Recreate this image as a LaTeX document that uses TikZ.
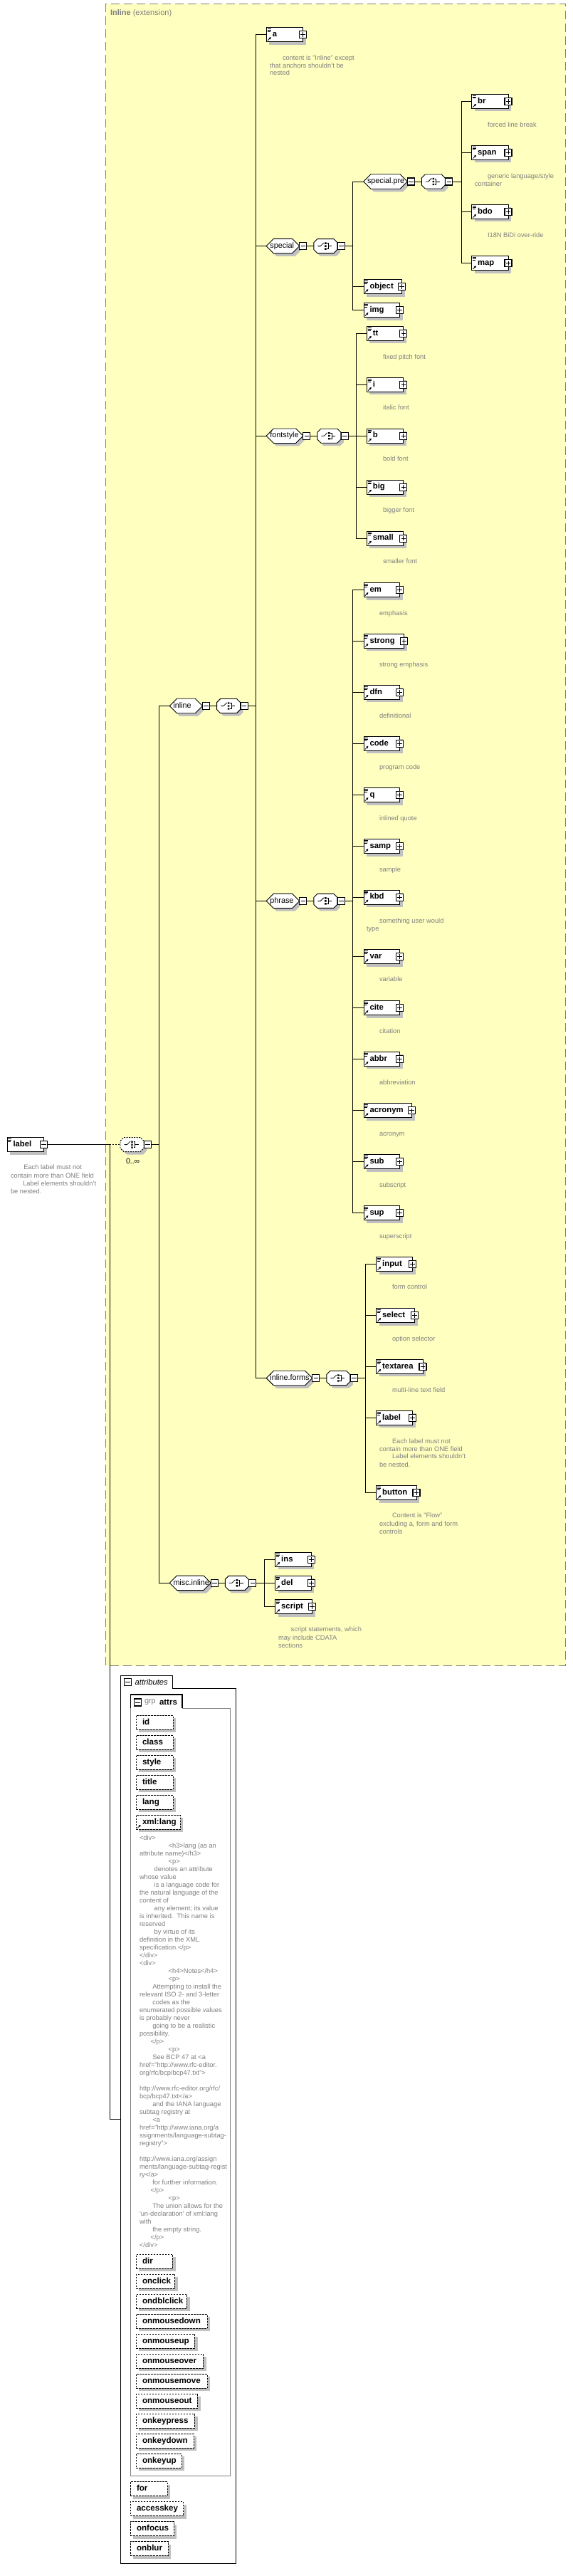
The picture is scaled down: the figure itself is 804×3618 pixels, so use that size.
\documentclass[tikz,border=0pt]{standalone}
\usepackage{fontspec}
\setmainfont{Liberation Sans}
\usetikzlibrary{shapes.misc,shadows,arrows.meta,calc}
\definecolor{bgyellow}{RGB}{255,255,192}
\definecolor{shgray}{RGB}{192,192,192}
\definecolor{txtgray}{RGB}{128,128,128}
\newcounter{dsc}
\tikzset{
  every node/.style={inner sep=0pt, outer sep=0pt},
  conn/.style={line width=0.9pt},
  shad/.style={general shadow={fill=shgray, shadow xshift=4pt, shadow yshift=-4pt}},
  elem/.style={shad, rectangle, draw, fill=white, line width=0.9pt, anchor=west, minimum height=20pt, text height=8pt, text depth=2.5pt, font=\bfseries\fontsize{11.3}{13}\selectfont},
  grp/.style={shad, chamfered rectangle, chamfered rectangle xsep=5pt, chamfered rectangle ysep=5pt, draw, fill=white, line width=0.9pt, anchor=west, minimum height=20pt, text height=8pt, text depth=2.5pt, font=\fontsize{10.8}{13}\selectfont},
  cho/.style={grp, minimum width=33pt},
  attr/.style={shad, rectangle, draw, dash pattern=on 2.4pt off 1.6pt, fill=white, line width=0.8pt, anchor=west, minimum height=20pt, text height=8.4pt, text depth=2.5pt, font=\bfseries\fontsize{11.6}{13}\selectfont},
  pm/.style={rectangle, draw, fill=white, line width=1.1pt, minimum width=10pt, minimum height=10pt},
  plusbox/.style={pm, path picture={\draw[line width=0.8pt] ([xshift=-3.2pt]path picture bounding box.center) -- ([xshift=3.2pt]path picture bounding box.center) ([yshift=-3.2pt]path picture bounding box.center) -- ([yshift=3.2pt]path picture bounding box.center);}},
  minusbox/.style={pm, path picture={\draw[line width=0.8pt] ([xshift=-3.2pt]path picture bounding box.center) -- ([xshift=3.2pt]path picture bounding box.center);}},
  desc/.style={anchor=west, text=txtgray, text height=6.8pt, text depth=2pt, font=\fontsize{9.3}{11}\selectfont},
}
\newcommand\XDocIcon[1]{%
  \draw[line width=0.6pt] ([xshift=1.3pt,yshift=-1.8pt]#1.north west) -- ++(5pt,0pt)
    ([xshift=1.3pt,yshift=-3.6pt]#1.north west) -- ++(5pt,0pt)
    ([xshift=1.3pt,yshift=-5.4pt]#1.north west) -- ++(4pt,0pt);}
\newcommand\XRefIcon[1]{%
  \draw[line width=0.8pt,-{Triangle[length=2.8pt,width=3pt]}] ([xshift=1.8pt,yshift=1.8pt]#1.south west) -- ++(4.6pt,4.6pt);}
\newcommand\XChoIcon[1]{%
  \draw[line width=0.8pt] ([xshift=-11pt]#1.center) -- ([xshift=-7pt]#1.center) -- ([xshift=-2.5pt,yshift=4.5pt]#1.center);
  \fill ([xshift=-1.2pt,yshift=5.2pt]#1.center) rectangle ([xshift=1.2pt,yshift=2.8pt]#1.center)
        ([xshift=-1.2pt,yshift=1.2pt]#1.center) rectangle ([xshift=1.2pt,yshift=-1.2pt]#1.center)
        ([xshift=-1.2pt,yshift=-2.8pt]#1.center) rectangle ([xshift=1.2pt,yshift=-5.2pt]#1.center);
  \draw[line width=0.8pt] ([xshift=2pt,yshift=4pt]#1.center) -- ([xshift=4pt,yshift=4pt]#1.center) -- ([xshift=4pt,yshift=-4pt]#1.center) -- ([xshift=2pt,yshift=-4pt]#1.center)
        ([xshift=4pt]#1.center) -- ([xshift=9pt]#1.center);}
\newcommand\XEl[5]{%
  \pgfmathsetmacro\xw{#4-#3}%
  \node[elem] (#1) at (#3,#5) {\makebox[\xw pt][l]{\hspace*{8.5pt}#2}};
  \XDocIcon{#1}\XRefIcon{#1}
  \node[plusbox] (#1-p) at (#1.east) {};}
\newcommand\XGrp[6]{%
  \pgfmathsetmacro\xw{#4-#3}\pgfmathsetmacro\xt{#4-#3-10}%
  \node[grp, minimum width=\xw pt] (#1) at (#3,#5) {\makebox[\xt pt][l]{#2}};
  \node[minusbox, anchor=west] (#1-m) at ([xshift=0.3pt]#1.east) {};
  \node[cho, anchor=west] (#1-c) at ([xshift=10pt]#1-m.east) {};
  \XChoIcon{#1-c}
  \node[minusbox, anchor=west] (#1-cm) at ([xshift=0.5pt]#1-c.east) {};
  \draw[conn] (#1-m.east) -- (#1-c.west);
  \coordinate (#1-bar) at (#6,#5);
  \draw[conn] (#1-cm.east) -- (#1-bar);}
\newcommand\XBr[2]{\draw[conn] (#1-bar) |- (#2.west);}
\newcommand\XAt[5]{%
  \pgfmathsetmacro\xw{#4-#3}%
  \node[attr] (#1) at (#3,#5) {\makebox[\xw pt][l]{\hspace*{8.7pt}#2}};}
\newcommand\XDs[3]{\stepcounter{dsc}\node[desc] (ds\arabic{dsc}) at (#1,#2) {#3};}

\begin{document}
\begin{tikzpicture}[x=1pt,y=-1pt]
\useasboundingbox (0,0) rectangle (804,3618);
\fill[white] (0,0) rectangle (804,3618);
% extension box
\draw[txtgray, fill=bgyellow, line width=1pt, dash pattern=on 12pt off 6pt] (148.7,5.4) rectangle (794,2339.6);
\node[anchor=west, text=txtgray, font=\fontsize{11}{13}\selectfont] (ttl) at (155,19) {\textbf{Inline} (extension)};

% root
\node[elem] (root) at (10,1607.6) {\makebox[51.6pt][l]{\hspace*{8.5pt}label}};
\XDocIcon{root}
\node[minusbox] (root-m) at (root.east) {};
\node[cho, dash pattern=on 2pt off 1.5pt] (rc) at (169,1607.6) {};
\XChoIcon{rc}
\node[minusbox, anchor=west] (rc-cm) at ([xshift=0.5pt]rc.east) {};
\coordinate (rootj) at (154,1607.6);
\coordinate (rc-bar) at (223.6,1607.6);
\coordinate (attrbox) at (169.7,2976);
\draw[conn] (root-m.east) -- (rootj);
\draw[conn, dash pattern=on 2pt off 2pt] (rootj) -- (rc.west);
\draw[conn] (rootj) |- (attrbox);
\draw[conn] (rc-cm.east) -- (rc-bar);
\node[anchor=west, font=\fontsize{10.5}{12}\selectfont] (occ) at (177,1631) {0..∞};
\XDs{33.3}{1640.5}{Each label must not}
\XDs{15}{1651.6}{contain more than ONE field}
\XDs{32.3}{1662.8}{Label elements shouldn't}
\XDs{15}{1673.9}{be nested.}

% groups
\XGrp{g-inline}{inline}{238.5}{284.3}{991.5}{359}
\XGrp{g-misc}{misc.inline}{238.5}{296}{2223.3}{371.3}
\XBr{rc}{g-inline}
\XBr{rc}{g-misc}

\XEl{e-a}{a}{374.4}{425.6}{48.6}
\XGrp{g-special}{special}{374.4}{420.5}{345.6}{495}
\XGrp{g-fontstyle}{fontstyle}{374.4}{425.6}{612.2}{500}
\XGrp{g-phrase}{phrase}{374.4}{420.5}{1265.4}{495}
\XGrp{g-forms}{inline.forms}{374.4}{438.5}{1935.5}{513}
\XBr{g-inline}{e-a}
\XBr{g-inline}{g-special}
\XBr{g-inline}{g-fontstyle}
\XBr{g-inline}{g-phrase}
\XBr{g-inline}{g-forms}
\XDs{397}{82}{content is "Inline" except}
\XDs{379}{93}{that anchors shouldn't be}
\XDs{379}{103.5}{nested}

% special
\XGrp{g-spre}{special.pre}{511}{572}{255}{648}
\XEl{e-object}{object}{511}{564.6}{402.6}
\XEl{e-img}{img}{511}{561.5}{435.5}
\XBr{g-special}{g-spre}
\XBr{g-special}{e-object}
\XBr{g-special}{e-img}
\XEl{e-br}{br}{662.6}{714}{142.4}
\XEl{e-span}{span}{662.6}{714}{214.3}
\XEl{e-bdo}{bdo}{662.6}{714}{297.4}
\XEl{e-map}{map}{662.6}{714}{369.7}
\XBr{g-spre}{e-br}
\XBr{g-spre}{e-span}
\XBr{g-spre}{e-bdo}
\XBr{g-spre}{e-map}
\XDs{685}{175.7}{forced line break}
\XDs{685}{248}{generic language/style}
\XDs{667}{259.1}{container}
\XDs{685}{330.7}{I18N BiDi over-ride}

% fontstyle
\XEl{e-tt}{tt}{515.4}{566.7}{468.4}
\XEl{e-i}{i}{515.4}{566.7}{540.4}
\XEl{e-b}{b}{515.4}{566.7}{612.2}
\XEl{e-big}{big}{515.4}{566.7}{684.2}
\XEl{e-small}{small}{515.4}{566.7}{756.1}
\XBr{g-fontstyle}{e-tt}
\XBr{g-fontstyle}{e-i}
\XBr{g-fontstyle}{e-b}
\XBr{g-fontstyle}{e-big}
\XBr{g-fontstyle}{e-small}
\XDs{538}{501.7}{fixed pitch font}
\XDs{538}{573.3}{italic font}
\XDs{538}{645.5}{bold font}
\XDs{538}{717.5}{bigger font}
\XDs{538}{789.4}{smaller font}

% phrase
\XEl{e-em}{em}{511}{561.5}{828.5}
\XEl{e-strong}{strong}{511}{567.7}{900.4}
\XEl{e-dfn}{dfn}{511}{561.5}{972.4}
\XEl{e-code}{code}{511}{561.5}{1044.3}
\XEl{e-q}{q}{511}{561.5}{1116.6}
\XEl{e-samp}{samp}{511}{561.5}{1188.6}
\XEl{e-kbd}{kbd}{511}{561.5}{1260.1}
\XEl{e-var}{var}{511}{561.5}{1343.5}
\XEl{e-cite}{cite}{511}{561.5}{1415.5}
\XEl{e-abbr}{abbr}{511}{561.5}{1487.4}
\XEl{e-acronym}{acronym}{511}{578.5}{1559.7}
\XEl{e-sub}{sub}{511}{561.5}{1631.7}
\XEl{e-sup}{sup}{511}{561.5}{1703.6}
\foreach \c in {em,strong,dfn,code,q,samp,kbd,var,cite,abbr,acronym,sub,sup} {\XBr{g-phrase}{e-\c}}
\XDs{533}{861.8}{emphasis}
\XDs{533}{934}{strong emphasis}
\XDs{533}{1006}{definitional}
\XDs{533}{1078.1}{program code}
\XDs{533}{1149.9}{inlined quote}
\XDs{533}{1221.8}{sample}
\XDs{533}{1293.8}{something user would}
\XDs{515}{1304.9}{type}
\XDs{533}{1376.4}{variable}
\XDs{533}{1448.8}{citation}
\XDs{533}{1520.7}{abbreviation}
\XDs{533}{1593}{acronym}
\XDs{533}{1665}{subscript}
\XDs{533}{1737.2}{superscript}

% inline.forms
\XEl{e-input}{input}{528.7}{579.5}{1775.6}
\XEl{e-select}{select}{528.7}{582.6}{1847.5}
\XEl{e-textarea}{textarea}{528.7}{594}{1919.4}
\XEl{e-label}{label}{528.7}{579.5}{1991.4}
\XEl{e-button}{button}{528.7}{585}{2096.6}
\foreach \c in {input,select,textarea,label,button} {\XBr{g-forms}{e-\c}}
\XDs{551}{1808.4}{form control}
\XDs{551}{1880.7}{option selector}
\XDs{551}{1952.7}{multi-line text field}
\XDs{551}{2024.6}{Each label must not}
\XDs{533}{2035.7}{contain more than ONE field}
\XDs{551}{2046.5}{Label elements shouldn't}
\XDs{533}{2057.6}{be nested.}
\XDs{551}{2129.5}{Content is "Flow"}
\XDs{533}{2140.6}{excluding a, form and form}
\XDs{533}{2152}{controls}

% misc.inline
\XEl{e-ins}{ins}{386.7}{437.4}{2190.4}
\XEl{e-del}{del}{386.7}{437.4}{2223.3}
\XEl{e-script}{script}{386.7}{438.5}{2256.6}
\XBr{g-misc}{e-ins}
\XBr{g-misc}{e-del}
\XBr{g-misc}{e-script}
\XDs{408.7}{2289.5}{script statements, which}
\XDs{391}{2300.6}{may include CDATA}
\XDs{391}{2311.8}{sections}

% attributes
\draw[line width=0.9pt] (169.7,3600.3) -- (169.7,2353) -- (242.6,2353) -- (242.6,2371.4) -- (331.3,2371.4) -- (331.3,3600.3) -- cycle;
\node[minusbox] (attr-m) at (179.5,2362.5) {};
\node[anchor=west, font=\itshape\fontsize{11.2}{13}\selectfont] (attr-t) at (189.7,2362) {attributes};
\draw[txtgray, line width=0.9pt] (183.3,2399.3) -- (183.3,3477.3) -- (323.3,3477.3) -- (323.3,2399.3) -- (256,2399.3);
\draw[line width=1.1pt] (183.3,2399.3) -- (183.3,2380) -- (256,2380) -- (256,2399.3);
\node[minusbox] (grp-m) at (193.5,2391) {};
\node[anchor=west, text=txtgray, font=\fontsize{10.9}{13}\selectfont] (grp-k) at (203,2390.7) {grp};
\node[anchor=west, font=\bfseries\fontsize{11.5}{13}\selectfont] (grp-t) at (224,2390.7) {attrs};

\XAt{at-id}{id}{191.3}{243}{2419.3}
\XAt{at-class}{class}{191.3}{243}{2447.3}
\XAt{at-style}{style}{191.3}{243}{2475.3}
\XAt{at-title}{title}{191.3}{243}{2503.3}
\XAt{at-lang}{lang}{191.3}{243}{2531.3}
\XAt{at-xmllang}{xml:lang}{191.3}{253}{2559.3}
\XRefIcon{at-xmllang}
\XDs{196}{2581.7}{<div>}
\XDs{236.7}{2592.7}{<h3>lang (as an}
\XDs{196}{2603.7}{attribute name)</h3>}
\XDs{236.7}{2614.7}{<p>}
\XDs{216.7}{2625.7}{denotes an attribute}
\XDs{196}{2636.7}{whose value}
\XDs{216.7}{2647.7}{is a language code for}
\XDs{196}{2658.7}{the natural language of the}
\XDs{196}{2669.7}{content of}
\XDs{216.7}{2680.7}{any element; its value}
\XDs{196}{2691.7}{is inherited.\ \ This name is}
\XDs{196}{2702.7}{reserved}
\XDs{216.7}{2713.7}{by virtue of its}
\XDs{196}{2724.7}{definition in the XML}
\XDs{196}{2735.7}{specification.</p>}
\XDs{196}{2746.7}{</div>}
\XDs{196}{2757.7}{<div>}
\XDs{236.7}{2768.7}{<h4>Notes</h4>}
\XDs{236.7}{2779.7}{<p>}
\XDs{214.3}{2790.7}{Attempting to install the}
\XDs{196}{2801.7}{relevant ISO 2- and 3-letter}
\XDs{214.3}{2812.7}{codes as the}
\XDs{196}{2823.7}{enumerated possible values}
\XDs{196}{2834.7}{is probably never}
\XDs{214.3}{2845.7}{going to be a realistic}
\XDs{196}{2856.7}{possibility.}
\XDs{211.7}{2867.7}{</p>}
\XDs{236.7}{2878.7}{<p>}
\XDs{214.3}{2889.7}{See BCP 47 at <a}
\XDs{196}{2900.7}{href="http://www.rfc-editor.}
\XDs{196}{2911.7}{org/rfc/bcp/bcp47.txt">}
\XDs{196}{2933.7}{http://www.rfc-editor.org/rfc/}
\XDs{196}{2944.7}{bcp/bcp47.txt</a>}
\XDs{214.3}{2955.7}{and the IANA language}
\XDs{196}{2966.7}{subtag registry at}
\XDs{214.3}{2977.7}{<a}
\XDs{196}{2988.7}{href="http://www.iana.org/a}
\XDs{196}{2999.7}{ssignments/language-subtag-}
\XDs{196}{3010.7}{registry">}
\XDs{196}{3032.7}{http://www.iana.org/assign}
\XDs{196}{3043.7}{ments/language-subtag-regist}
\XDs{196}{3054.7}{ry</a>}
\XDs{214.3}{3065.7}{for further information.}
\XDs{211.7}{3076.7}{</p>}
\XDs{236.7}{3087.7}{<p>}
\XDs{214.3}{3098.7}{The union allows for the}
\XDs{196}{3109.7}{\textquotesingle un-declaration\textquotesingle\ of xml:lang}
\XDs{196}{3120.7}{with}
\XDs{214.3}{3131.7}{the empty string.}
\XDs{211.7}{3142.7}{</p>}
\XDs{196}{3153.7}{</div>}

\XAt{at-dir}{dir}{191.3}{242.7}{3176.3}
\XAt{at-onclick}{onclick}{191.3}{245.7}{3204.3}
\XAt{at-ondblclick}{ondblclick}{191.3}{262.7}{3232.3}
\XAt{at-onmousedown}{onmousedown}{191.3}{291}{3260.3}
\XAt{at-onmouseup}{onmouseup}{191.3}{273.7}{3288.3}
\XAt{at-onmouseover}{onmouseover}{191.3}{285.7}{3316.3}
\XAt{at-onmousemove}{onmousemove}{191.3}{291}{3344.3}
\XAt{at-onmouseout}{onmouseout}{191.3}{277.7}{3372.3}
\XAt{at-onkeypress}{onkeypress}{191.3}{273.7}{3400.3}
\XAt{at-onkeydown}{onkeydown}{191.3}{272}{3428.3}
\XAt{at-onkeyup}{onkeyup}{191.3}{255}{3456.3}
\XAt{at-for}{for}{183.3}{235}{3495.7}
\XAt{at-accesskey}{accesskey}{183.3}{257.7}{3523.7}
\XAt{at-onfocus}{onfocus}{183.3}{244}{3551.7}
\XAt{at-onblur}{onblur}{183.3}{236}{3579.7}
\end{tikzpicture}
\end{document}
